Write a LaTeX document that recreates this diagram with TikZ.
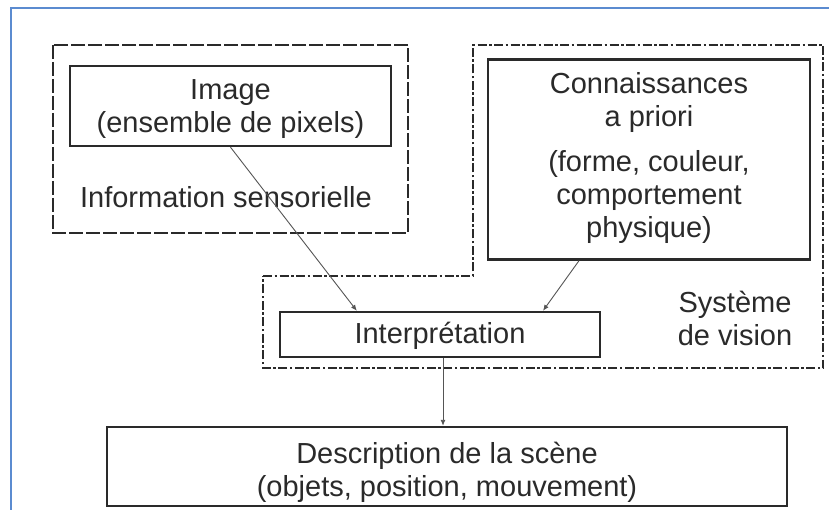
\documentclass[tikz,border=0pt]{standalone}
\usepackage{fontspec}
\setmainfont{Liberation Sans}
\usetikzlibrary{arrows.meta}
\definecolor{ink}{HTML}{2A2A2A}
\definecolor{wire}{HTML}{555555}
\definecolor{framecol}{HTML}{5B8BD0}
\tikzset{
  box/.style={draw=ink, line width=2.4pt, inner sep=0pt},
  label/.style={inner sep=0pt, align=center, text=ink,
    font=\fontsize{29}{33}\selectfont},
  grouping/.style={draw=ink, line width=1.6pt, dash pattern=on 14pt off 3pt},
  system/.style={draw=ink, line width=1.6pt,
    dash pattern=on 9pt off 2.5pt on 2.5pt off 2.5pt},
  link/.style={draw=wire, line width=0.9pt, -{Latex[length=6pt,width=5pt]}},
}
\begin{document}
\begin{tikzpicture}[x=1pt,y=-1pt]
  \useasboundingbox[fill=white] (0,0) rectangle (829,510);
  % page frame
  \draw[framecol, line width=2pt] (11,510) -- (11,8) -- (829,8);

  % sensory information group
  \draw[grouping] (53,45) rectangle (408,233);
  \node[box, minimum width=321pt, minimum height=80pt] (img) at (230.5,106) {};
  \node[label] (imgtxt) at (230.5,109) {Image\\(ensemble de pixels)};
  \node[label] (sens) at (226,197) {Information sensorielle};

  % vision system group
  \draw[system] (263,276) -- (473,276) -- (473,45) -- (823,45)
    -- (823,368) -- (263,368) -- cycle;
  \node[box, minimum width=322pt, minimum height=200pt] (conn) at (649,159.5) {};
  \node[label] (conntxt) at (649,158)
    {Connaissances\\a priori\\[12pt](forme, couleur,\\comportement\\physique)};
  \node[label] (sys) at (735,318) {Système\\de vision};
  \node[box, minimum width=320pt, minimum height=45pt] (interp) at (440,334.5) {};
  \node[label] (interptxt) at (440,336) {Interprétation};

  % output
  \node[box, minimum width=680pt, minimum height=79pt] (desc) at (447,466.5) {};
  \node[label] (desctxt) at (447,472)
    {Description de la scène\\(objets, position, mouvement)};

  % connectors
  \draw[link] (img.south) -- ([xshift=78pt]interp.north west);
  \draw[link] ([xshift=-70pt]conn.south) -- ([xshift=103pt]interp.north);
  \draw[link] ([xshift=3pt]interp.south) -- ([xshift=3pt]interp.south |- desc.north);
\end{tikzpicture}
\end{document}
